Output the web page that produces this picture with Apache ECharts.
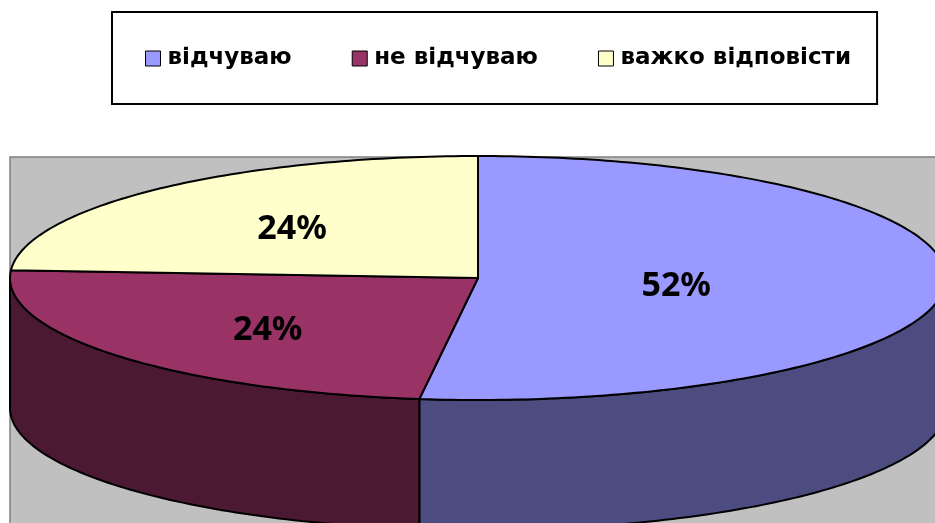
<!DOCTYPE html>
<html>
<head>
<meta charset="utf-8">
<script src="https://cdn.jsdelivr.net/npm/echarts@6/dist/echarts.min.js"></script>
<style>
  html, body { margin: 0; padding: 0; background: #fff; }
  #chart { width: 935px; height: 523px; }
</style>
</head>
<body>
<div id="chart"></div>
<script>
// data
const categories = ['відчуваю', 'не відчуваю', 'важко відповісти'];
const shares = [52, 24, 24];
const topColors = ['#9999ff', '#993366', '#ffffcc'];
const sideColors = ['#4c4c80', '#4c1933', '#80806a'];

// pie geometry (tilted ellipse + depth)
const cx = 478, cy = 278, rx = 468, ry = 122, depth = 130;

const total = shares.reduce((a, b) => a + b, 0);

function pt(deg, dy) {
    const r = deg * Math.PI / 180;
    return [cx + rx * Math.sin(r), cy - ry * Math.cos(r) + dy];
}

function arc(a, b, dy) {
    const n = Math.max(2, Math.ceil(Math.abs(b - a)));
    const pts = [];
    for (let k = 0; k <= n; k++) {
        pts.push(pt(a + (b - a) * k / n, dy));
    }
    return pts;
}

function renderSlice(params, api) {
    const i = params.seriesIndex;
    let before = 0;
    for (let k = 0; k < i; k++) before += shares[k];
    const a0 = before / total * 360;
    const a1 = (before + shares[i]) / total * 360;
    const children = [];

    // visible front wall
    const s = Math.max(a0, 90), e = Math.min(a1, 270);
    if (s < e) {
        children.push({
            type: 'polygon',
            shape: { points: arc(s, e, 0).concat(arc(e, s, depth)) },
            style: { fill: sideColors[i], stroke: '#000', lineWidth: 2, lineJoin: 'round' }
        });
    }

    // top face
    children.push({
        type: 'polygon',
        shape: { points: [[cx, cy]].concat(arc(a0, a1, 0)) },
        style: { fill: topColors[i], stroke: '#000', lineWidth: 2, lineJoin: 'round' }
    });

    // label at sector centroid
    const alpha = (a1 - a0) * Math.PI / 180;
    const f = 4 * Math.sin(alpha / 2) / (3 * alpha);
    const mid = (a0 + a1) / 2 * Math.PI / 180;
    children.push({
        type: 'text',
        x: cx + rx * f * Math.sin(mid) + 8,
        y: cy - ry * f * Math.cos(mid) + 5,
        style: {
            text: shares[i] + '%',
            fill: '#000',
            font: 'bold 34px "Noto Sans"',
            align: 'center',
            verticalAlign: 'middle'
        }
    });

    return { type: 'group', children: children };
}

const chart = echarts.init(document.getElementById('chart'));

chart.setOption({
    animation: false,
    backgroundColor: '#fff',
    graphic: [{
        type: 'rect',
        z: -1,
        shape: { x: 10, y: 157, width: 940, height: 380 },
        style: { fill: '#c0c0c0', stroke: '#808080', lineWidth: 1.5 }
    }],
    legend: {
        left: 112,
        top: 12,
        padding: [35, 26, 34, 33],
        borderColor: '#000',
        borderWidth: 2,
        itemGap: 60,
        itemWidth: 15,
        itemHeight: 15,
        icon: 'rect',
        itemStyle: { borderColor: '#000', borderWidth: 1 },
        textStyle: { fontFamily: 'DejaVu Sans', fontWeight: 'bold', fontSize: 23, color: '#000', padding: [0, 0, 0, 2] },
        data: categories
    },
    series: categories.map((name, i) => ({
        type: 'custom',
        name: name,
        coordinateSystem: 'none',
        itemStyle: { color: topColors[i] },
        renderItem: renderSlice,
        data: [[shares[i]]]
    }))
});
</script>
</body>
</html>
